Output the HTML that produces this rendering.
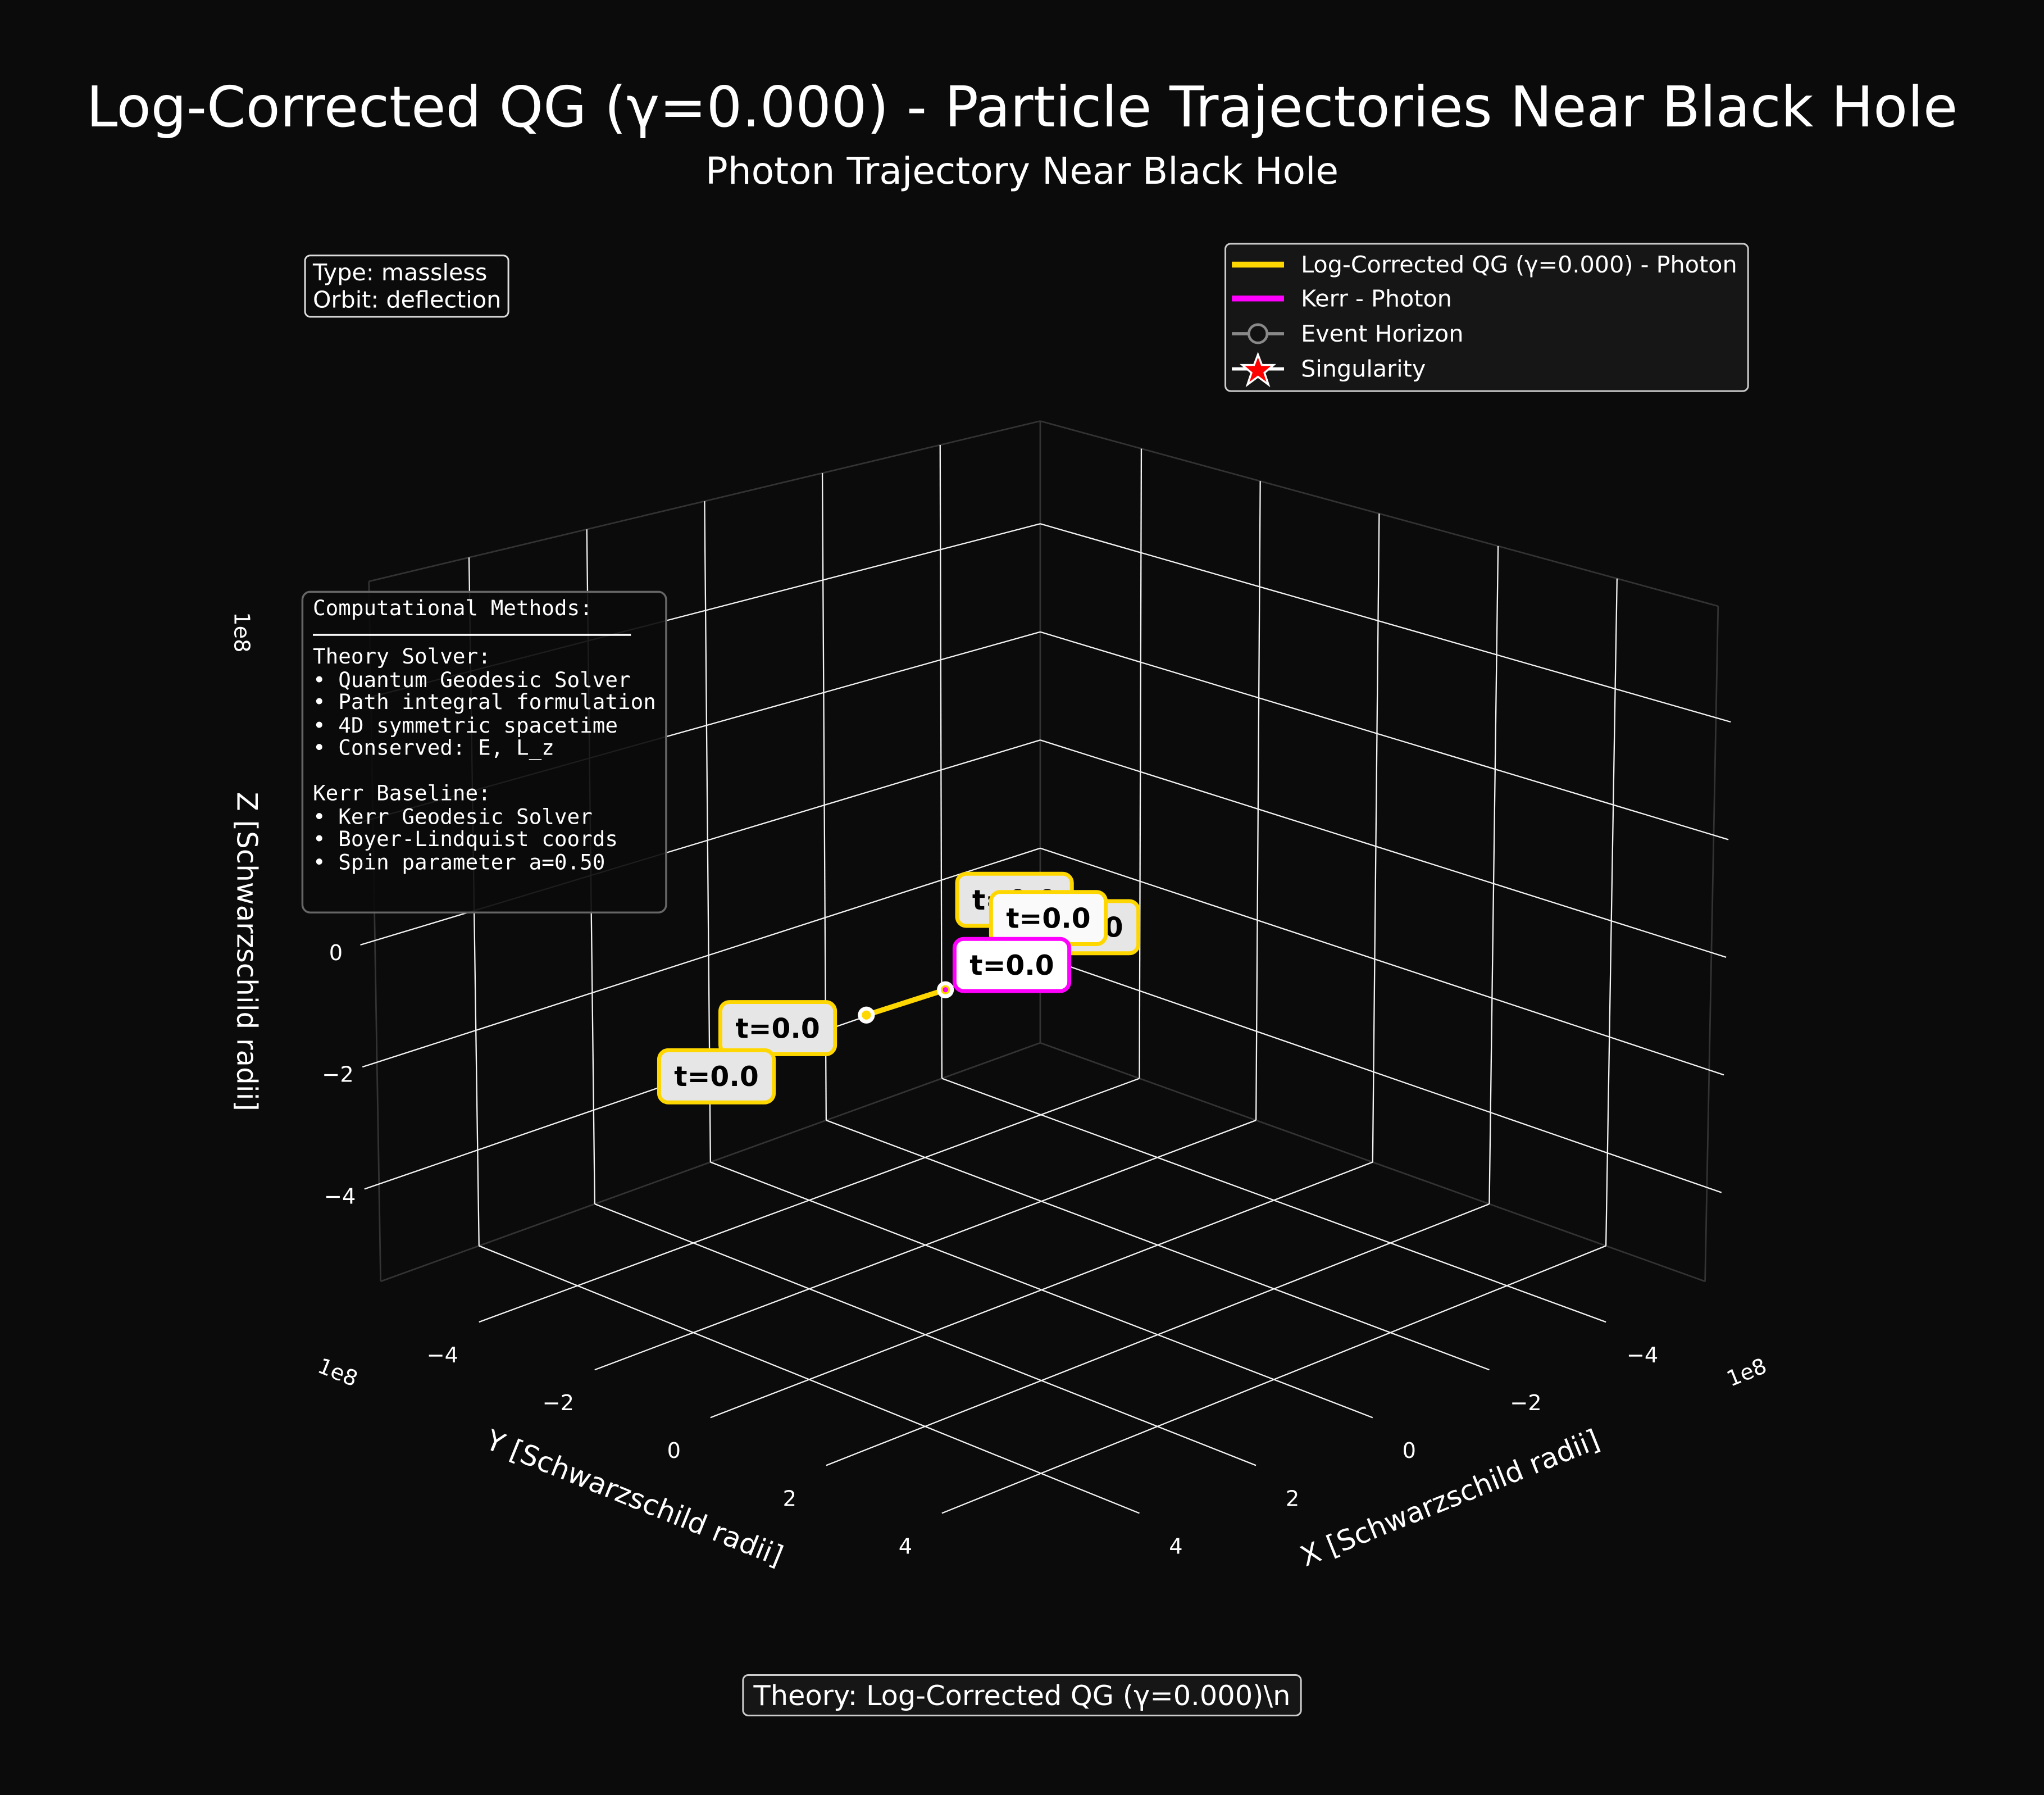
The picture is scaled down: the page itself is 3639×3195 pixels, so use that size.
<!DOCTYPE html>
<html><head><meta charset="utf-8"><style>
html,body{margin:0;padding:0;background:#0b0b0b;}
svg{display:block;}
text{font-family:"DejaVu Sans","Liberation Sans",sans-serif;fill:#fff;}
.mono{font-family:"DejaVu Sans Mono","Liberation Mono",monospace;}
</style></head><body>
<svg id="chart" xmlns="http://www.w3.org/2000/svg" width="3639" height="3195" viewBox="0 0 1568 1377" preserveAspectRatio="none">
<rect width="1568" height="1377" fill="#0b0b0b"/>
<text x="784" y="97" font-size="43" text-anchor="middle">Log-Corrected QG (γ=0.000) - Particle Trajectories Near Black Hole</text>
<text x="784" y="141" font-size="28.5" text-anchor="middle">Photon Trajectory Near Black Hole</text>
<g id="grid"></g>
<g id="ticks"></g>
<g id="marks"></g>
<g id="labels"></g>

<text transform="translate(180,485) rotate(90)" font-size="16.5" text-anchor="middle">1e8</text>
<text transform="translate(182,730) rotate(90)" font-size="21.5" text-anchor="middle">Z [Schwarzschild radii]</text>
<text transform="translate(484,1156) rotate(22)" font-size="21.5" text-anchor="middle">Y [Schwarzschild radii]</text>
<text transform="translate(1115,1156) rotate(-22)" font-size="21.5" text-anchor="middle">X [Schwarzschild radii]</text>
<text transform="translate(257,1058) rotate(22)" font-size="16.5" text-anchor="middle">1e8</text>
<text transform="translate(1342,1058) rotate(-22)" font-size="16.5" text-anchor="middle">1e8</text>

<g>
<rect x="234" y="196" width="156" height="47" rx="4" fill="#0b0b0b" stroke="#ddd" stroke-width="1.3"/>
<text x="240" y="215" font-size="17.8">Type: massless</text>
<text x="240" y="236" font-size="17.8">Orbit: deflection</text>
</g>

<g>
<rect x="232" y="454" width="279" height="246" rx="6" fill="#0b0b0b" fill-opacity="0.92" stroke="#666" stroke-width="1.5"/>
<g class="mono" font-size="16.2">
<text class="mono" x="240" y="472">Computational Methods:</text>
<line x1="240" y1="487" x2="484" y2="487" stroke="#fff" stroke-width="1.5"/>
<text class="mono" x="240" y="509">Theory Solver:</text>
<text class="mono" x="240" y="527">• Quantum Geodesic Solver</text>
<text class="mono" x="240" y="544">• Path integral formulation</text>
<text class="mono" x="240" y="562">• 4D symmetric spacetime</text>
<text class="mono" x="240" y="579">• Conserved: E, L_z</text>
<text class="mono" x="240" y="614">Kerr Baseline:</text>
<text class="mono" x="240" y="632">• Kerr Geodesic Solver</text>
<text class="mono" x="240" y="649">• Boyer-Lindquist coords</text>
<text class="mono" x="240" y="667">• Spin parameter a=0.50</text>
</g></g>

<g>
<rect x="940" y="187" width="401" height="113" rx="4" fill="#161616" stroke="#ccc" stroke-width="1.3"/>
<line x1="945" y1="203" x2="985" y2="203" stroke="#ffd700" stroke-width="4.5"/>
<text x="998" y="209" font-size="17.8">Log-Corrected QG (γ=0.000) - Photon</text>
<line x1="945" y1="229" x2="985" y2="229" stroke="#ff00ff" stroke-width="4.5"/>
<text x="998" y="235" font-size="17.8">Kerr - Photon</text>
<line x1="945" y1="256" x2="985" y2="256" stroke="#888" stroke-width="2.5"/>
<circle cx="965" cy="256" r="7" fill="#111" stroke="#888" stroke-width="2"/>
<text x="998" y="262" font-size="17.8">Event Horizon</text>
<line x1="945" y1="283" x2="985" y2="283" stroke="#fff" stroke-width="2.5"/>
<polygon points="965,272 968,280 977,280 970,286 973,295 965,289 957,295 960,286 953,280 962,280" fill="#f00" stroke="#fff" stroke-width="1.5"/>
<text x="998" y="289" font-size="17.8">Singularity</text>
</g>

<g>
<rect x="570" y="1285" width="428" height="31" rx="4" fill="#161616" stroke="#ccc" stroke-width="1.3"/>
<text x="784" y="1308" font-size="21.3" text-anchor="middle">Theory: Log-Corrected QG (γ=0.000)\n</text>
</g>

<script>
// axis ticks (units of 1e8)
const xTicks = [-4, -2, 0, 2, 4];
const yTicks = [-4, -2, 0, 2, 4];
const zTicks = [-4, -2, 0, 2, 4];
const zTickLabels = ['−4', '−2', '0'];
const xTickLabels = ['−4', '−2', '0', '2', '4'];
const yTickLabels = ['−4', '−2', '0', '2', '4'];
// theory trajectory (x, y, z in 1e8)
const qgX = [3.0, 1.65];
const qgY = [0.0, 0.0];
const qgZ = [-0.1, -0.1];
// kerr trajectory
const kerrX = [1.65];
const kerrY = [0.0];
const kerrZ = [-0.1];
const timeLabels = ['t=0.0', 't=0.0', 't=0.0', 't=0.0', 't=0.0', 't=0.0'];

const XR = [-5.7, 5.7], YR = [-5.7, 5.7], ZR = [-5.6, 5.9];
const C = {
  '000': [798, 800], '100': [292, 983], '010': [1308, 983], '110': [798, 1192],
  '001': [798, 323], '101': [283, 446], '011': [1318, 465], '111': [800, 600]
};
function lerp(a, b, t) { return [a[0] + (b[0] - a[0]) * t, a[1] + (b[1] - a[1]) * t]; }
function proj(x, y, z) {
  const u = (x - XR[0]) / (XR[1] - XR[0]), v = (y - YR[0]) / (YR[1] - YR[0]), w = (z - ZR[0]) / (ZR[1] - ZR[0]);
  const b0 = lerp(lerp(C['000'], C['100'], u), lerp(C['010'], C['110'], u), v);
  const b1 = lerp(lerp(C['001'], C['101'], u), lerp(C['011'], C['111'], u), v);
  return lerp(b0, b1, w);
}
const NS = 'http://www.w3.org/2000/svg';
function mk(tag, attrs, parent) {
  const e = document.createElementNS(NS, tag);
  for (const k in attrs) e.setAttribute(k, attrs[k]);
  parent.appendChild(e); return e;
}
const grid = document.getElementById('grid');
function seg(p, q, col, w, name) {
  const e = mk('line', { x1: p[0], y1: p[1], x2: q[0], y2: q[1], stroke: col, 'stroke-width': w }, grid);
  
  
}
const edge = '#333';
seg(proj(XR[0], YR[0], ZR[0]), proj(XR[1], YR[0], ZR[0]), edge, 1.2, 'pane-edge');
seg(proj(XR[0], YR[0], ZR[0]), proj(XR[0], YR[1], ZR[0]), edge, 1.2, 'pane-edge');
seg(proj(XR[0], YR[0], ZR[0]), proj(XR[0], YR[0], ZR[1]), edge, 1.2, 'pane-edge');
seg(proj(XR[1], YR[0], ZR[0]), proj(XR[1], YR[0], ZR[1]), edge, 1.2, 'pane-edge');
seg(proj(XR[0], YR[1], ZR[0]), proj(XR[0], YR[1], ZR[1]), edge, 1.2, 'pane-edge');
seg(proj(XR[0], YR[0], ZR[1]), proj(XR[1], YR[0], ZR[1]), edge, 1.2, 'pane-edge');
seg(proj(XR[0], YR[0], ZR[1]), proj(XR[0], YR[1], ZR[1]), edge, 1.2, 'pane-edge');
const gc = '#f2f2f2', gw = 1;
xTicks.forEach(x => {
  seg(proj(x, YR[0], ZR[0]), proj(x, YR[0], ZR[1]), gc, gw, 'x-gridline-wall');
  seg(proj(x, YR[0], ZR[0]), proj(x, YR[1], ZR[0]), gc, gw, 'x-gridline-floor');
});
yTicks.forEach(y => {
  seg(proj(XR[0], y, ZR[0]), proj(XR[0], y, ZR[1]), gc, gw, 'y-gridline-wall');
  seg(proj(XR[0], y, ZR[0]), proj(XR[1], y, ZR[0]), gc, gw, 'y-gridline-floor');
});
zTicks.forEach(z => {
  seg(proj(XR[1] + 0.25, YR[0], z), proj(XR[0], YR[0], z), gc, gw, 'z-gridline-left');
  seg(proj(XR[0], YR[0], z), proj(XR[0], YR[1] + 0.25, z), gc, gw, 'z-gridline-right');
});
const tg = document.getElementById('ticks');
function tl(p, s, name) {
  const t = mk('text', { x: p[0], y: p[1] + 5, 'font-size': 16.5, 'text-anchor': 'middle' }, tg);
  t.textContent = s;
  
  
}
zTickLabels.forEach((s, i) => { const p = proj(XR[1], YR[0], zTicks[i]); tl([p[0] - 30, p[1] + 10], s, 'z-tick-label'); });
xTickLabels.forEach((s, i) => { const p = proj(xTicks[i], YR[1], ZR[0]); tl([p[0] + 28, p[1] + 26], s, 'x-tick-label'); });
yTickLabels.forEach((s, i) => { const p = proj(XR[1], yTicks[i], ZR[0]); tl([p[0] - 28, p[1] + 26], s, 'y-tick-label'); });
const mg = document.getElementById('marks');
const qgPts = qgX.map((x, i) => proj(x, qgY[i], qgZ[i]));
const ghost = mk('polyline', { points: qgPts.map(p => p.join(',')).join(' '), fill: 'none', stroke: '#ffd700', 'stroke-width': 4 }, mg);


qgPts.forEach(p => {
  const c = mk('circle', { cx: p[0], cy: p[1], r: 6.5, fill: '#fff' }, mg);
  
  
  mk('circle', { cx: p[0], cy: p[1], r: 3.5, fill: '#ffd700' }, mg);
});
const kerrPts = kerrX.map((x, i) => proj(x, kerrY[i], kerrZ[i]));
kerrPts.forEach(p => {
  const c = mk('circle', { cx: p[0], cy: p[1], r: 2, fill: '#ff00ff' }, mg);
  
  
});
const lg = document.getElementById('labels');
const a0 = qgPts[0], a1 = qgPts[1];
const labelSpecs = [
  [a1[0] + 53, a1[1] - 69, '#ffd700', '#e6e6e6', 0],
  [a1[0] + 104, a1[1] - 48, '#ffd700', '#e6e6e6', 1],
  [a1[0] + 79, a1[1] - 55, '#ffd700', '#fafafa', 2],
  [a1[0] + 51, a1[1] - 19, '#ff00ff', '#ffffff', 3],
  [a0[0] - 68, a0[1] + 10, '#ffd700', '#e6e6e6', 4],
  [a0[0] - 115, a0[1] + 47, '#ffd700', '#e6e6e6', 5]
];
labelSpecs.forEach(s => {
  const g = mk('g', {}, lg);
  
  
  mk('rect', { x: s[0] - 44, y: s[1] - 20, width: 88, height: 40, rx: 7, fill: s[3], stroke: s[2], 'stroke-width': 3 }, g);
  const t = mk('text', { x: s[0], y: s[1] + 7.5, 'font-size': 21, 'font-weight': 'bold', 'text-anchor': 'middle' }, g);
  t.style.fill = '#000';
  t.textContent = timeLabels[s[4]];
});
</script>
</svg>
</body></html>
